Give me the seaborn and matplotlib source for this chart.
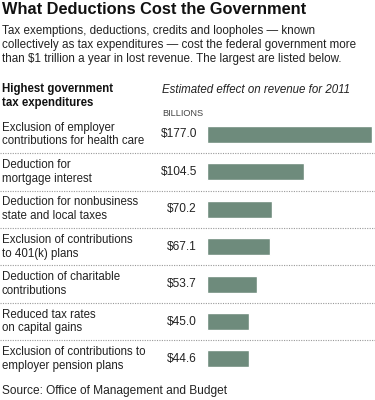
import matplotlib
matplotlib.use("Agg")
import matplotlib.pyplot as plt
import matplotlib.transforms as mtransforms
import seaborn as sns
import pandas as pd

# Data
labels = [
    "Exclusion of employer\ncontributions for health care",
    "Deduction for\nmortgage interest",
    "Deduction for nonbusiness\nstate and local taxes",
    "Exclusion of contributions\nto 401(k) plans",
    "Deduction of charitable\ncontributions",
    "Reduced tax rates\non capital gains",
    "Exclusion of contributions to\nemployer pension plans",
]
values = [177.0, 104.5, 70.2, 67.1, 53.7, 45.0, 44.6]

title = "What Deductions Cost the Government"
subtitle = ("Tax exemptions, deductions, credits and loopholes \u2014 known\n"
            "collectively as tax expenditures \u2014 cost the federal government more\n"
            "than $1 trillion a year in lost revenue. The largest are listed below.")
source = "Source: Office of Management and Budget"

df = pd.DataFrame({"label": labels, "value": values})
df["row"] = range(len(df))

sns.set_theme(style="white")
plt.rcParams["font.family"] = ["Liberation Sans", "DejaVu Sans"]

W, H = 375, 400
fig = plt.figure(figsize=(W / 100, H / 100), dpi=100)
bar_color = "#6e8b7c"
text_color = "#222222"

def fx(px):
    return px / W

def fy(py):
    return 1 - py / H

row_h = 37.4
top = 134.5 - row_h / 2
bottom = top + row_h * len(df)
ax_left, ax_right = 207, 375
ax = fig.add_axes([fx(ax_left), fy(bottom), fx(ax_right - ax_left), (bottom - top) / H])

sns.barplot(data=df, x="value", y="row", orient="h", color=bar_color,
            width=0.455, saturation=1, ax=ax)
ax.set_xlim(0, 177.0 * (ax_right - ax_left) / 165)
ax.set_ylim(len(df) - 0.5, -0.5)
ax.axis("off")

# row labels, values, dotted separators
blend = mtransforms.blended_transform_factory(fig.transFigure, ax.transData)
for i, (lab, v) in enumerate(zip(labels, values)):
    ax.text(fx(2), i, lab, transform=blend, ha="left", va="center",
            fontsize=8.3, color=text_color, linespacing=1.2)
    ax.text(fx(197), i, f"${v:.1f}", transform=blend, ha="right", va="center",
            fontsize=8.6, color=text_color)
    if i < len(df) - 1:
        ax.plot([0, 1], [i + 0.5, i + 0.5], transform=blend, clip_on=False,
                color="#999999", lw=0.8, ls=(0, (1, 1.2)))

fig.text(fx(2), fy(9.5), title, ha="left", va="center", fontsize=11.8,
         fontweight="bold", color="#111111")
fig.text(fx(2), fy(45), subtitle, ha="left", va="center", fontsize=8.4,
         color=text_color, linespacing=1.2)
fig.text(fx(2), fy(96), "Highest government\ntax expenditures", ha="left",
         va="center", fontsize=8.3, fontweight="bold", color="#111111",
         linespacing=1.15)
fig.text(fx(162), fy(90), "Estimated effect on revenue for 2011", ha="left",
         va="center", fontsize=8.3, style="italic", color=text_color)
fig.text(fx(162), fy(113), "BILLIONS", ha="left", va="center", fontsize=6.6,
         color="#444444")
fig.text(fx(2), fy(391), source, ha="left", va="center", fontsize=8.6,
         color=text_color)

fig.savefig("out.png", dpi=100)
